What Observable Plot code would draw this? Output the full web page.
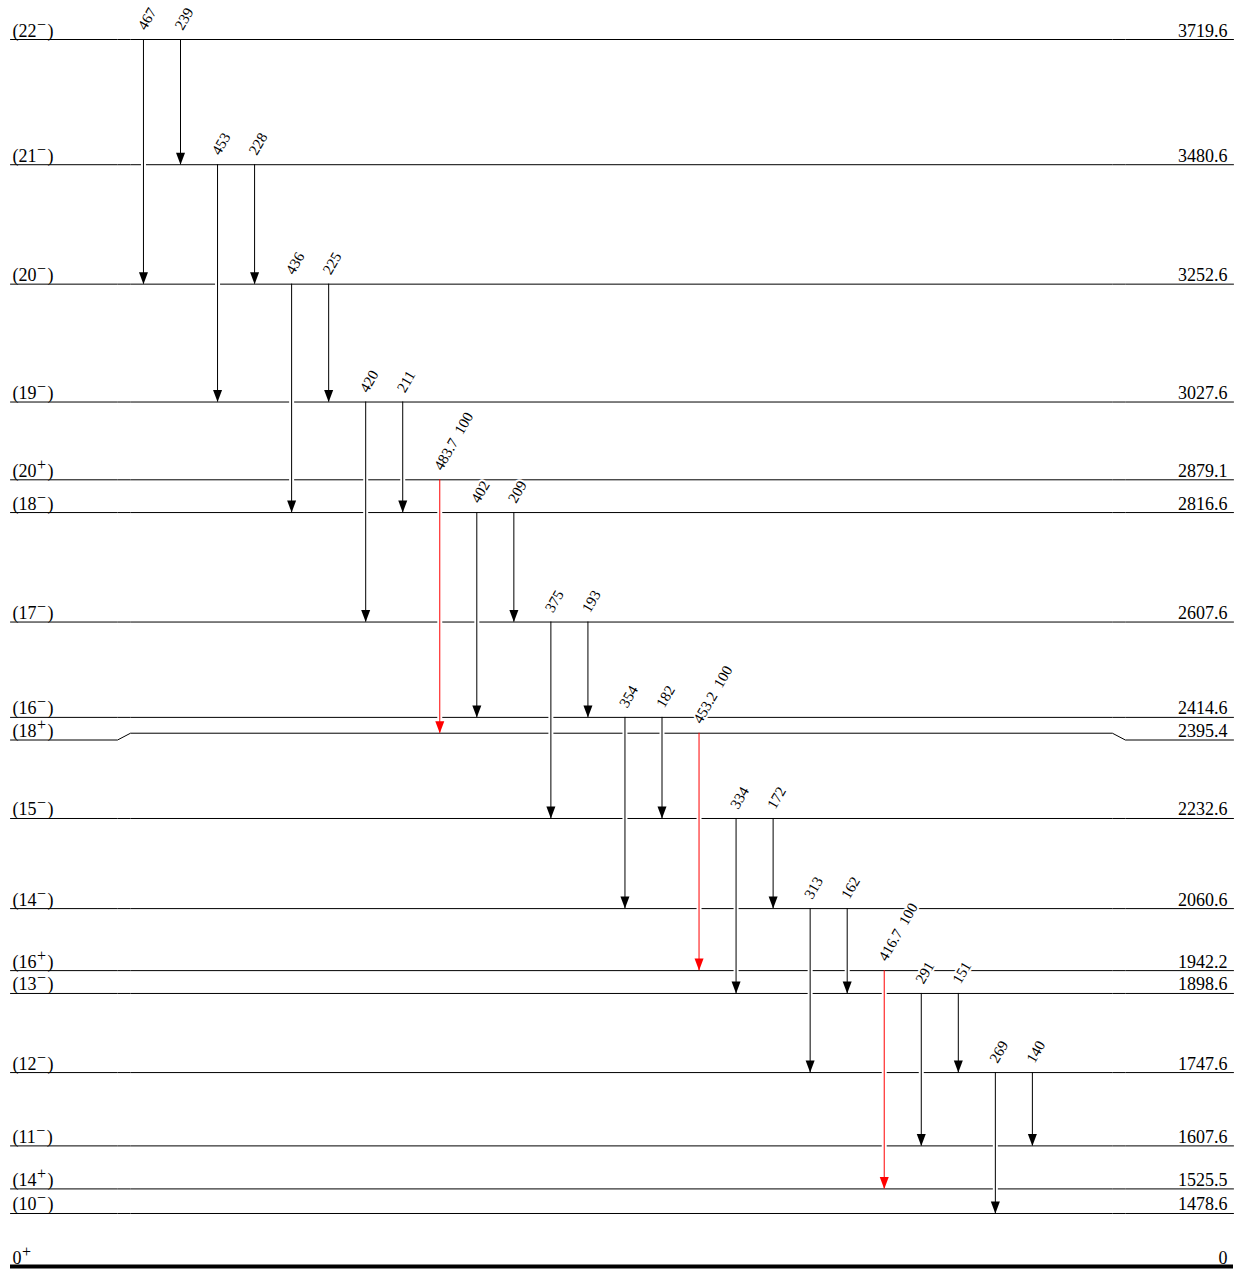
<!DOCTYPE html>
<html>
<head>
<meta charset="utf-8">
<script src="https://cdn.jsdelivr.net/npm/d3@7"></script>
<script src="https://cdn.jsdelivr.net/npm/@observablehq/plot@0.6"></script>
<style>
  html, body { margin: 0; padding: 0; background: #fff; }
  #chart { width: 1244px; height: 1269px; }
</style>
</head>
<body>
<div id="chart"></div>
<script>
// ---------------- data ----------------
const levelSpin   = ["0+", "(10−)", "(14+)", "(11−)", "(12−)", "(13−)", "(16+)", "(14−)", "(15−)",
                     "(18+)", "(16−)", "(17−)", "(18−)", "(20+)", "(19−)", "(20−)", "(21−)", "(22−)"];
const levelEnergy = [0, 1478.6, 1525.5, 1607.6, 1747.6, 1898.6, 1942.2, 2060.6, 2232.6,
                     2395.4, 2414.6, 2607.6, 2816.6, 2879.1, 3027.6, 3252.6, 3480.6, 3719.6];
// drawing offsets (keV): broken energy axis below the (10−) level, and shifts keeping close levels apart
const levelLineShift = [1377.4, 0, 0, 0, 0, 0, 0, 0, 0, 0, 11, 0, 0, 0, 0, 0, 0, 0];
const levelEndShift  = [1377.4, 0, 0, 0, 0, 0, 0, 0, 0, -13, 11, 0, 0, 0, 0, 0, 0, 0];

const gammaEnergy    = [467, 239, 453, 228, 436, 225, 420, 211, 483.7, 402, 209, 375, 193,
                        354, 182, 453.2, 334, 172, 313, 162, 416.7, 291, 151, 269, 140];
const gammaFrom      = [3719.6, 3719.6, 3480.6, 3480.6, 3252.6, 3252.6, 3027.6, 3027.6, 2879.1,
                        2816.6, 2816.6, 2607.6, 2607.6, 2414.6, 2414.6, 2395.4, 2232.6, 2232.6,
                        2060.6, 2060.6, 1942.2, 1898.6, 1898.6, 1747.6, 1747.6];
const gammaTo        = [3252.6, 3480.6, 3027.6, 3252.6, 2816.6, 3027.6, 2607.6, 2816.6, 2395.4,
                        2414.6, 2607.6, 2232.6, 2414.6, 2060.6, 2232.6, 1942.2, 1898.6, 2060.6,
                        1747.6, 1898.6, 1525.5, 1607.6, 1747.6, 1478.6, 1607.6];
const gammaIntensity = [null, null, null, null, null, null, null, null, 100,
                        null, null, null, null, null, null, 100, null, null,
                        null, null, 100, null, null, null, null];
const gammaColor     = ["black", "black", "black", "black", "black", "black", "black", "black", "red",
                        "black", "black", "black", "black", "black", "black", "red", "black", "black",
                        "black", "black", "red", "black", "black", "black", "black"];

// ---------------- tables ----------------
const levels = levelEnergy.map((E, i) => ({
  spin: levelSpin[i], E,
  pos: E + levelLineShift[i],
  end: E + levelEndShift[i]
}));
const posOf = new Map(levels.map(l => [l.E, l.pos]));
const gammas = gammaEnergy.map((g, i) => ({
  col: i,
  label: gammaIntensity[i] != null ? `${g}\u2002${gammaIntensity[i]}` : `${g}`,
  from: posOf.get(gammaFrom[i]),
  to: posOf.get(gammaTo[i]),
  color: gammaColor[i]
}));

// x scale in "column" units; frame edges extend beyond the transition columns
const xMin = -3.59, xMax = 29.43;
const kink = [-0.70, -0.35, 26.16, 26.51];
const levelPath = levels.filter(l => l.E > 0).flatMap(l => [
  [xMin, l.end], [kink[0], l.end], [kink[1], l.pos], [kink[2], l.pos], [kink[3], l.end], [xMax, l.end]
].map(([x, y]) => ({id: l.spin, x, y})));

const arrowHead = {
  draw(ctx) { ctx.moveTo(0, 0); ctx.lineTo(-4.5, -12); ctx.lineTo(4.5, -12); ctx.closePath(); }
};

const font = "'Liberation Serif', 'Times New Roman', Times, serif";

const chart = Plot.plot({
  width: 1244,
  height: 1269,
  marginLeft: 10,
  marginRight: 11,
  marginTop: 39,
  marginBottom: 3,
  x: {domain: [xMin, xMax], axis: null},
  y: {domain: d3.extent(levels, l => l.pos), axis: null},
  style: {fontFamily: font, background: "white", overflow: "visible"},
  marks: [
    Plot.line(levelPath, {x: "x", y: "y", z: "id", stroke: "black", strokeWidth: 1}),
    Plot.ruleY(levels.filter(l => l.E === 0), {y: "pos", stroke: "black", strokeWidth: 4}),
    // white halo so that shafts cut through crossed levels
    Plot.ruleX(gammas, {x: "col", y1: "from", y2: "to", stroke: "white", strokeWidth: 5, insetTop: 3, insetBottom: 3}),
    Plot.ruleX(gammas, {x: "col", y1: "from", y2: "to", stroke: "color", strokeWidth: 1}),
    Plot.dot(gammas, {x: "col", y: "to", symbol: arrowHead, fill: "color", stroke: null, r: 5}),
    Plot.text(gammas, {
      x: "col", y: "from", text: "label", rotate: -60, textAnchor: "start", lineAnchor: "middle",
      dx: -2, dy: -11, fontSize: 15, fill: "black", stroke: "white", strokeWidth: 4, paintOrder: "stroke"
    }),
    Plot.text(levels, {
      y: "end", text: "spin", frameAnchor: "left", textAnchor: "start", lineAnchor: "bottom",
      dx: 2, dy: -3, fontSize: 18, fill: "black"
    }),
    Plot.text(levels, {
      y: "end", text: d => d.E === 0 ? "0" : d.E.toFixed(1), frameAnchor: "right", textAnchor: "end",
      lineAnchor: "bottom", dx: -6, dy: -3, fontSize: 18, fill: "black"
    })
  ]
});

// superscript parity signs in spin labels
chart.querySelectorAll("text").forEach(t => {
  const m = /^(\(?\d+)([+−])(\)?)$/.exec(t.textContent);
  if (!m) return;
  t.textContent = m[1];
  const sup = document.createElementNS("http://www.w3.org/2000/svg", "tspan");
  sup.setAttribute("dy", "-7");
  sup.setAttribute("dx", "0.5");
  sup.setAttribute("font-size", "16");
  sup.textContent = m[2];
  t.appendChild(sup);
  if (m[3]) {
    const close = document.createElementNS("http://www.w3.org/2000/svg", "tspan");
    close.setAttribute("dy", "7");
    close.setAttribute("dx", "1.5");
    close.textContent = m[3];
    t.appendChild(close);
  }
});

document.getElementById("chart").appendChild(chart);
</script>
</body>
</html>
